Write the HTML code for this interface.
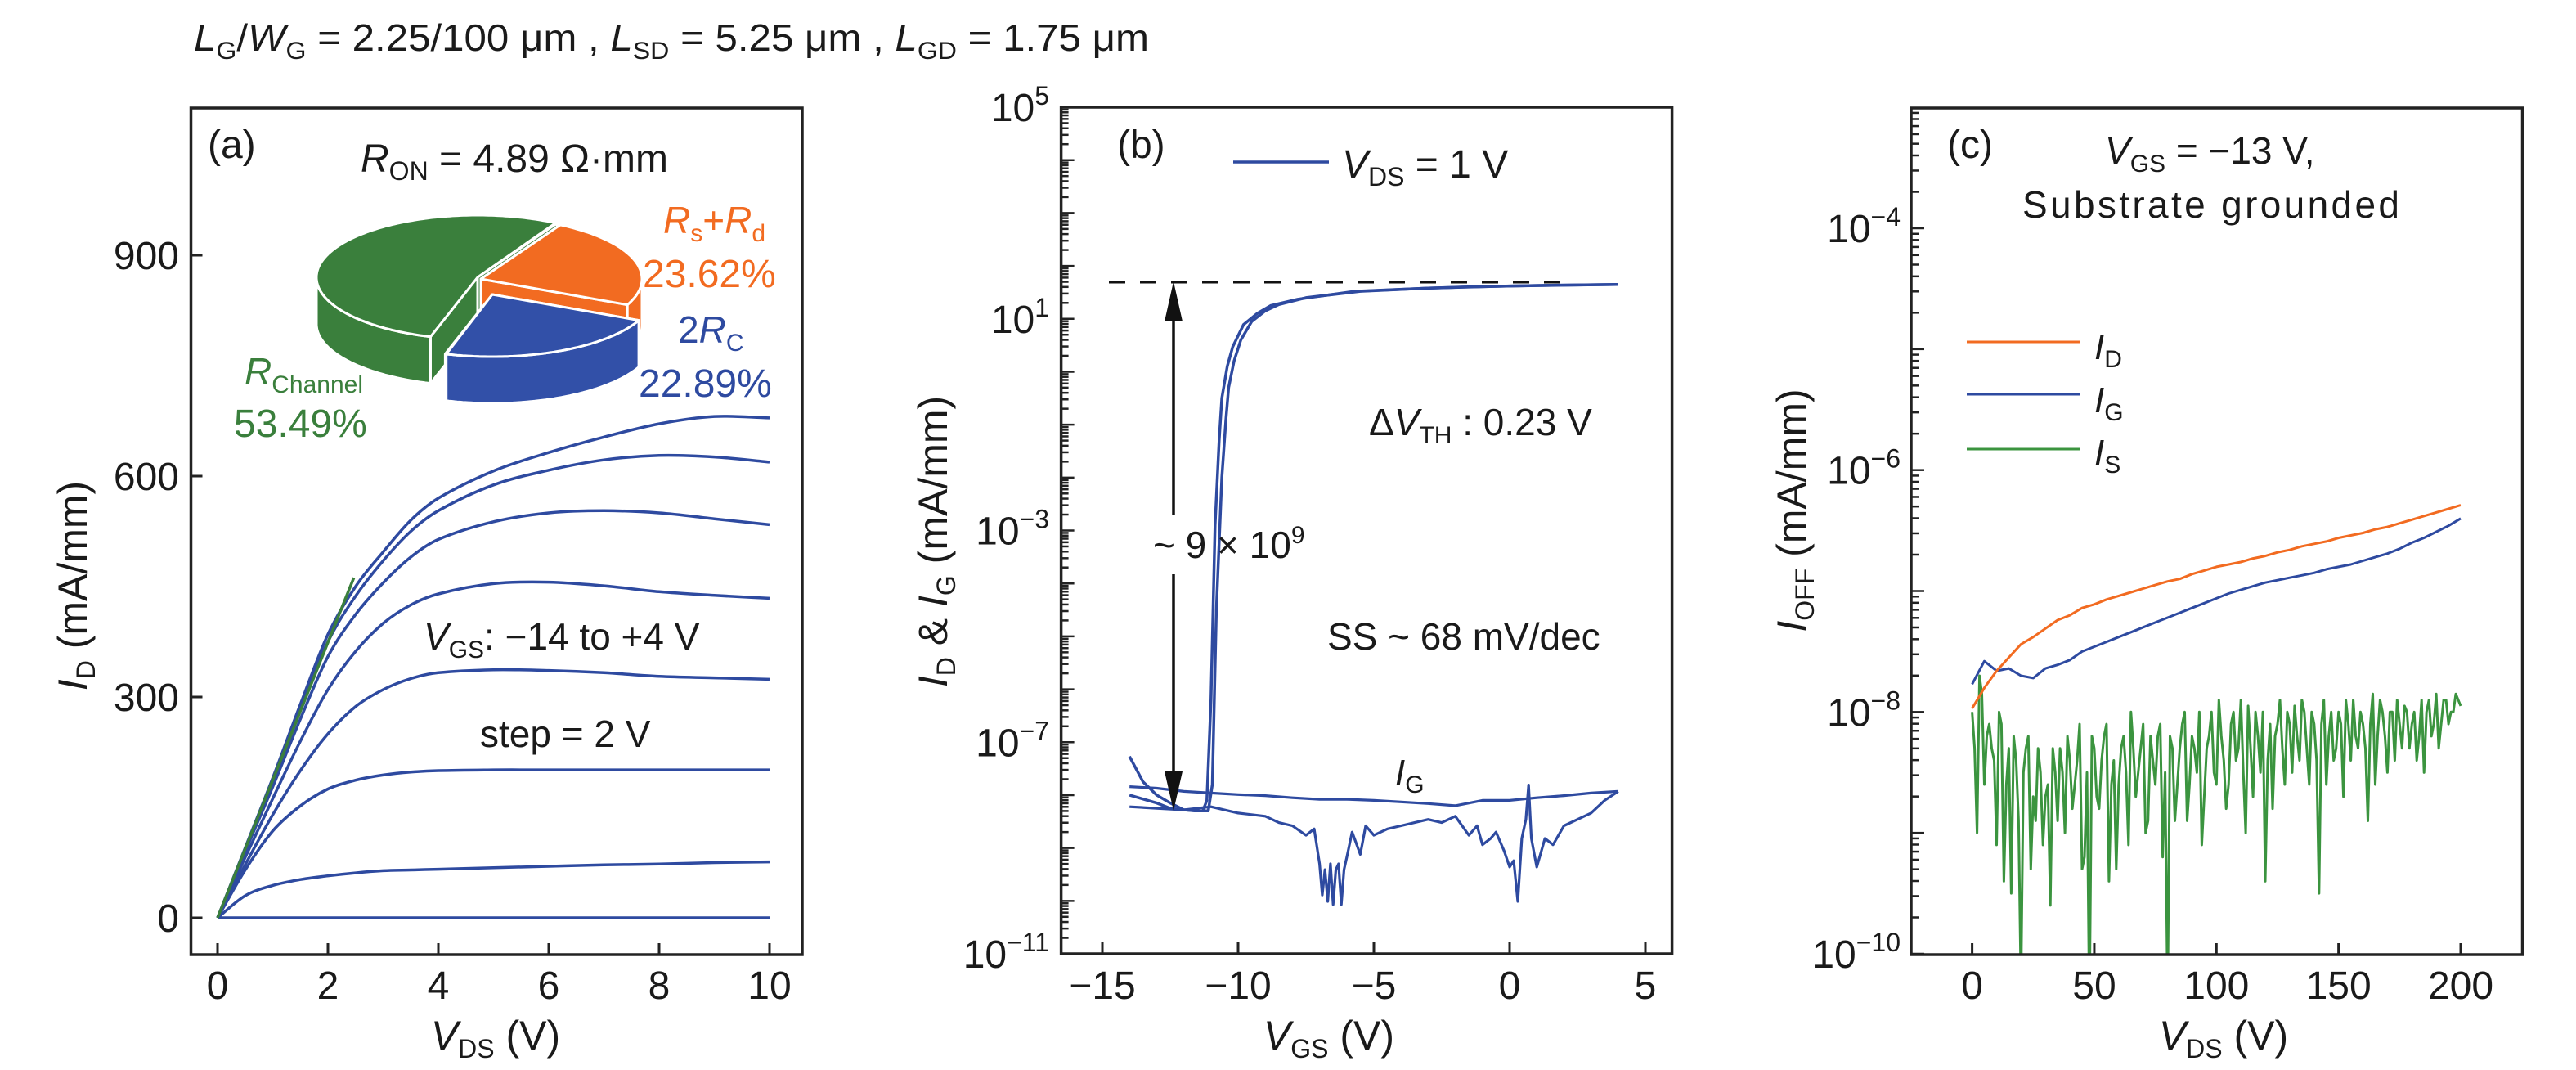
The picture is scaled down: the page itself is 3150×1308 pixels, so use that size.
<!DOCTYPE html>
<html><head><meta charset="utf-8">
<style>
html,body{margin:0;padding:0;background:#fff;}
svg{display:block;}
text{font-family:"Liberation Sans",sans-serif;fill:#1a1a1a;}
</style></head>
<body>
<svg id="chart" xmlns="http://www.w3.org/2000/svg" width="3150" height="1308" viewBox="0 0 3150 1308">
<rect width="3150" height="1308" fill="#fff"/>
<text x="237" y="62" font-size="46" textLength="1168" lengthAdjust="spacingAndGlyphs"><tspan font-style="italic">L</tspan><tspan font-size="30" dy="10">G</tspan><tspan dy="-10">/</tspan><tspan font-style="italic">W</tspan><tspan font-size="30" dy="10">G</tspan><tspan dy="-10"> = 2.25/100 μm , </tspan><tspan font-style="italic">L</tspan><tspan font-size="30" dy="10">SD</tspan><tspan dy="-10"> = 5.25 μm , </tspan><tspan font-style="italic">L</tspan><tspan font-size="30" dy="10">GD</tspan><tspan dy="-10"> = 1.75 μm</tspan></text>

<!-- Panel a -->
<g id="pa">
<g id="pie"></g>
<g id="pa-curves"></g>
<rect x="233.5" y="132" width="747.5" height="1035" fill="none" stroke="#222" stroke-width="3.5"/>
<g id="pa-ticks"></g>
<text x="254" y="193" font-size="48">(a)</text>
<text x="441" y="210" font-size="48"><tspan font-style="italic">R</tspan><tspan font-size="32" dy="10">ON</tspan><tspan dy="-10"> = 4.89 Ω·mm</tspan></text>
<text x="811" y="285" font-size="46" style="fill:#f26b21"><tspan font-style="italic">R</tspan><tspan font-size="30" dy="10">s</tspan><tspan dy="-10">+</tspan><tspan font-style="italic">R</tspan><tspan font-size="30" dy="10">d</tspan></text>
<text x="786" y="351" font-size="48" style="fill:#f26b21">23.62%</text>
<text x="829" y="419" font-size="46" style="fill:#2e4aa0">2<tspan font-style="italic">R</tspan><tspan font-size="30" dy="10">C</tspan></text>
<text x="781" y="485" font-size="48" style="fill:#2e4aa0">22.89%</text>
<text x="299" y="470" font-size="46" style="fill:#3a7f3c"><tspan font-style="italic">R</tspan><tspan font-size="30" dy="10">Channel</tspan></text>
<text x="286" y="534" font-size="48" style="fill:#3a7f3c">53.49%</text>
<text x="518" y="794" font-size="46"><tspan font-style="italic">V</tspan><tspan font-size="30" dy="10">GS</tspan><tspan dy="-10">: −14 to +4 V</tspan></text>
<text x="587" y="913" font-size="46">step = 2 V</text>
<text transform="translate(106,716) rotate(-90)" text-anchor="middle" font-size="50"><tspan font-style="italic">I</tspan><tspan font-size="32" dy="10">D</tspan><tspan dy="-10"> (mA/mm)</tspan></text>
<text x="606" y="1283" text-anchor="middle" font-size="50"><tspan font-style="italic">V</tspan><tspan font-size="32" dy="10">DS</tspan><tspan dy="-10"> (V)</tspan></text>
</g>

<!-- Panel b -->
<g id="pb">
<clipPath id="clipb"><rect x="1298" y="131" width="747" height="1035"/></clipPath>
<g id="pb-curves" clip-path="url(#clipb)"></g>
<rect x="1297.6" y="131" width="747" height="1035" fill="none" stroke="#222" stroke-width="3.5"/>
<g id="pb-ticks"></g>
<text x="1366" y="193" font-size="48">(b)</text>
<line x1="1508" y1="198" x2="1625" y2="198" stroke="#2e4aa0" stroke-width="3.5"/>
<text x="1641" y="217" font-size="48"><tspan font-style="italic">V</tspan><tspan font-size="32" dy="10">DS</tspan><tspan dy="-10"> = 1 V</tspan></text>
<line x1="1356" y1="345" x2="1918" y2="345" stroke="#111" stroke-width="3" stroke-dasharray="20,18"/>
<line x1="1435" y1="386" x2="1435" y2="629" stroke="#111" stroke-width="3.5"/>
<line x1="1435" y1="702" x2="1435" y2="950" stroke="#111" stroke-width="3.5"/>
<polygon points="1435,344 1424,393 1446,393" fill="#111"/>
<polygon points="1435,991 1424,943 1446,943" fill="#111"/>
<text x="1410" y="682" font-size="46">~ 9 × 10<tspan font-size="30" dy="-18">9</tspan></text>
<text x="1674" y="532" font-size="46">Δ<tspan font-style="italic">V</tspan><tspan font-size="30" dy="10">TH</tspan><tspan dy="-10"> : 0.23 V</tspan></text>
<text x="1623" y="794" font-size="46">SS ~ 68 mV/dec</text>
<text x="1706" y="959" font-size="44"><tspan font-style="italic">I</tspan><tspan font-size="30" dy="10">G</tspan></text>
<text transform="translate(1158,662) rotate(-90)" text-anchor="middle" font-size="50"><tspan font-style="italic">I</tspan><tspan font-size="32" dy="10">D</tspan><tspan dy="-10"> &amp; </tspan><tspan font-style="italic">I</tspan><tspan font-size="32" dy="10">G</tspan><tspan dy="-10"> (mA/mm)</tspan></text>
<text x="1625" y="1283" text-anchor="middle" font-size="50"><tspan font-style="italic">V</tspan><tspan font-size="32" dy="10">GS</tspan><tspan dy="-10"> (V)</tspan></text>
</g>

<!-- Panel c -->
<g id="pc">
<clipPath id="clipc"><rect x="2337" y="132" width="748" height="1035"/></clipPath>
<g id="pc-curves" clip-path="url(#clipc)"></g>
<rect x="2337" y="132" width="747.5" height="1035" fill="none" stroke="#222" stroke-width="3.5"/>
<g id="pc-ticks"></g>
<text x="2381" y="193" font-size="48">(c)</text>
<text x="2574" y="200" font-size="46"><tspan font-style="italic">V</tspan><tspan font-size="30" dy="10">GS</tspan><tspan dy="-10"> = −13 V,</tspan></text>
<text x="2473" y="266" font-size="46" textLength="461">Substrate grounded</text>
<line x1="2405" y1="418" x2="2543" y2="418" stroke="#f26b21" stroke-width="3"/>
<line x1="2405" y1="482" x2="2543" y2="482" stroke="#2e4aa0" stroke-width="3"/>
<line x1="2405" y1="549" x2="2543" y2="549" stroke="#3b943f" stroke-width="3"/>
<text x="2561" y="439" font-size="44"><tspan font-style="italic">I</tspan><tspan font-size="30" dy="10">D</tspan></text>
<text x="2561" y="504" font-size="44"><tspan font-style="italic">I</tspan><tspan font-size="30" dy="10">G</tspan></text>
<text x="2561" y="568" font-size="44"><tspan font-style="italic">I</tspan><tspan font-size="30" dy="10">S</tspan></text>
<text transform="translate(2208,624) rotate(-90)" text-anchor="middle" font-size="50"><tspan font-style="italic">I</tspan><tspan font-size="32" dy="10">OFF</tspan><tspan dy="-10"> (mA/mm)</tspan></text>
<text x="2719" y="1283" text-anchor="middle" font-size="50"><tspan font-style="italic">V</tspan><tspan font-size="32" dy="10">DS</tspan><tspan dy="-10"> (V)</tspan></text>
</g>
</svg>
<script>
const NS = 'http://www.w3.org/2000/svg';
// ---------- Panel (a) data ----------
const aVds = [0,0.5,1,1.5,2,2.5,3,3.5,4,5,6,7,8,9,10];
const aCurve1 = [0,95,190,290,385,450,497,540,570,607,632,653,671,681,679];
const aCurve2 = [0,93,186,283,375,437,485,525,553,588,608,622,628,626,619];
const aCurve3 = [0,90,178,270,355,412,455,490,514,538,550,553,550,542,534];
const aCurve4 = [0,82,162,240,310,362,400,425,440,454,456,451,443,438,434];
const aCurve5 = [0,72,140,200,250,287,310,325,333,337,336,333,328,326,324];
const aCurve6 = [0,65,118,152,175,187,194,198,200,201,201,201,201,201,201];
const aCurve7 = [0,30,44,52,57,61,64,65,66,68,70,72,73,75,76];
const aCurve8 = [0,0,0,0,0,0,0,0,0,0,0,0,0,0,0];
const aFitV = [0,2.47];
const aFitI = [0,462];
const aXTicks = [0,2,4,6,8,10];
const aYTicks = [0,300,600,900];
const aXTickLabels = ['0','2','4','6','8','10'];
const aYTickLabels = ['0','300','600','900'];
const pieShares = [53.49,23.62,22.89];
// ---------- Panel (b) data (log10 mA/mm) ----------
const bFwdV = [-14,-13.5,-13,-12.5,-12,-11.6,-11.3,-11.15,-11.0,-10.85,-10.7,-10.6,-10.4,-10.2,-9.8,-9.3,-8.8,-7.8,-5.7,-3,-1.7,1,4];
const bFwdLog = [-7.27,-7.75,-8.0,-8.15,-8.28,-8.3,-8.3,-8.1,-6.2,-2.9,-1.3,-0.5,0.1,0.47,0.89,1.1,1.25,1.37,1.52,1.58,1.6,1.63,1.65];
const bRevV = [-14,-13,-12.5,-12,-11.5,-11.1,-10.95,-10.8,-10.6,-10.45,-10.35,-10.15,-9.9,-9.5,-9,-8.5,-7.5,-5.5,-3,0,4];
const bRevLog = [-8.0,-8.15,-8.25,-8.28,-8.3,-8.3,-7.8,-4.5,-2.0,-0.9,-0.3,0.2,0.6,0.95,1.15,1.27,1.4,1.52,1.58,1.62,1.65];
const bIgAV = [-14,-13,-12,-11,-10,-9,-8,-7,-6,-5,-4,-3,-2,-1,0,1,2,3,4];
const bIgALog = [-7.84,-7.87,-7.93,-7.96,-7.99,-8.01,-8.05,-8.08,-8.08,-8.10,-8.13,-8.16,-8.20,-8.10,-8.10,-8.05,-8.01,-7.96,-7.93];
const bIgBV = [-14,-13,-12,-11,-10,-9,-8.5,-8,-7.5,-7.2,-7.0,-6.9,-6.8,-6.7,-6.6,-6.5,-6.4,-6.3,-6.2,-6.1,-6.0,-5.8,-5.5,-5.3,-5,-4.5,-4,-3.5,-3,-2.5,-2,-1.5,-1.2,-1,-0.7,-0.5,-0.2,0,0.15,0.3,0.45,0.6,0.7,0.8,1,1.3,1.6,2,2.5,3,3.5,4];
const bIgBLog = [-8.22,-8.25,-8.28,-8.22,-8.34,-8.40,-8.52,-8.58,-8.76,-8.64,-9.30,-9.89,-9.41,-10.01,-9.30,-10.07,-9.41,-9.30,-10.07,-9.41,-9.18,-8.70,-9.12,-8.58,-8.76,-8.64,-8.58,-8.52,-8.46,-8.52,-8.40,-8.76,-8.58,-8.94,-8.82,-8.70,-9.06,-9.36,-9.24,-10.01,-8.82,-8.46,-7.81,-8.82,-9.36,-8.82,-8.94,-8.58,-8.46,-8.34,-8.10,-7.93];
const bXTicks = [-15,-10,-5,0,5];
const bXTickLabels = ['−15','−10','−5','0','5'];
const bYMajor = [5,1,-3,-7,-11];
const bYTickExp = ['5','1','−3','−7','−11'];
// ---------- Panel (c) data (log10 mA/mm) ----------
const cVds5 = [0,5,10,15,20,25,30,35,40,45,50,55,60,65,70,75,80,85,90,95,100,105,110,115,120,125,130,135,140,145,150,155,160,165,170,175,180,185,190,195,200];
const cIdLog = [-7.97,-7.80,-7.66,-7.55,-7.44,-7.38,-7.31,-7.24,-7.20,-7.14,-7.11,-7.07,-7.04,-7.01,-6.98,-6.95,-6.92,-6.90,-6.86,-6.83,-6.80,-6.78,-6.76,-6.73,-6.71,-6.68,-6.66,-6.63,-6.61,-6.59,-6.56,-6.54,-6.52,-6.49,-6.47,-6.44,-6.41,-6.38,-6.35,-6.32,-6.29];
const cIgLog = [-7.77,-7.58,-7.66,-7.64,-7.70,-7.72,-7.64,-7.61,-7.57,-7.50,-7.46,-7.42,-7.38,-7.34,-7.30,-7.26,-7.22,-7.18,-7.14,-7.10,-7.06,-7.02,-6.99,-6.96,-6.93,-6.91,-6.89,-6.87,-6.85,-6.82,-6.80,-6.78,-6.75,-6.72,-6.69,-6.65,-6.60,-6.56,-6.51,-6.46,-6.40];
const cVdsEven = [0,2,4,6,8,10,12,14,16,18,20,22,24,26,28,30,32,34,36,38,40,42,44,46,48,50,52,54,56,58,60,62,64,66,68,70,72,74,76,78,80,82,84,86,88,90,92,94,96,98,100,102,104,106,108,110,112,114,116,118,120,122,124,126,128,130,132,134,136,138,140,142,144,146,148,150,152,154,156,158,160,162,164,166,168,170,172,174,176,178,180,182,184,186,188,190,192,194,196,198,200];
const cIsLogEven = [-8.0,-9.0,-7.85,-8.2,-8.3,-9.1,-8.1,-8.6,-9.5,-8.4,-10.3,-8.3,-9.3,-8.9,-8.5,-8.7,-9.6,-8.5,-8.3,-9.0,-8.4,-8.6,-8.1,-9.2,-10.5,-8.3,-8.8,-8.2,-9.4,-8.4,-8.6,-8.2,-9.1,-8.3,-8.5,-8.1,-8.9,-8.4,-8.2,-9.2,-10.4,-8.3,-8.6,-8.1,-8.9,-8.2,-8.5,-9.1,-8.3,-8.0,-8.6,-8.2,-8.8,-8.1,-8.4,-7.9,-9.0,-8.3,-8.0,-8.5,-9.4,-8.1,-8.2,-7.9,-8.6,-8.1,-7.95,-8.4,-8.0,-8.6,-8.1,-9.5,-7.9,-8.2,-8.4,-8.0,-8.7,-8.1,-7.9,-8.3,-8.1,-8.9,-7.85,-8.2,-8.0,-8.5,-8.0,-7.9,-8.3,-8.0,-8.1,-8.4,-7.9,-8.0,-8.2,-7.85,-8.1,-7.9,-8.0,-7.85,-7.95];
const cVdsOdd = [1,3,5,7,9,11,13,15,17,19,21,23,25,27,29,31,33,35,37,39,41,43,45,47,49,51,53,55,57,59,61,63,65,67,69,71,73,75,77,79,81,83,85,87,89,91,93,95,97,99,101,103,105,107,109,111,113,115,117,119,121,123,125,127,129,131,133,135,137,139,141,143,145,147,149,151,153,155,157,159,161,163,165,167,169,171,173,175,177,179,181,183,185,187,189,191,193,195,197,199];
const cIsLogOdd = [-8.3,-7.7,-8.6,-8.1,-8.4,-8.0,-9.4,-8.3,-8.2,-8.9,-8.5,-8.2,-8.7,-8.3,-9.1,-8.6,-8.3,-8.9,-8.5,-8.2,-8.8,-8.4,-9.3,-8.5,-8.2,-8.7,-8.4,-8.1,-8.6,-9.3,-8.3,-8.5,-8.0,-8.7,-8.3,-9.0,-8.2,-8.6,-8.1,-8.5,-8.2,-8.9,-8.3,-8.0,-8.6,-8.3,-8.0,-8.7,-8.2,-8.5,-7.9,-8.4,-8.6,-8.0,-8.3,-8.5,-7.95,-8.7,-8.2,-8.0,-8.4,-8.8,-8.1,-8.3,-8.0,-8.5,-8.2,-7.9,-8.3,-8.0,-8.4,-8.1,-8.6,-8.0,-8.3,-8.1,-7.9,-8.4,-8.2,-8.0,-8.3,-8.1,-8.6,-7.9,-8.2,-8.0,-8.4,-8.1,-7.95,-8.3,-8.0,-8.2,-8.5,-7.9,-8.1,-8.3,-7.9,-8.1,-8.0,-7.9];
const cXTicks = [0,50,100,150,200];
const cXTickLabels = ['0','50','100','150','200'];
const cYMajor = [-10,-8,-6,-4];
const cYTickExp = ['−10','−8','−6','−4'];

const BLUE = '#2e4aa0', ORANGE = '#f26b21', GREEN = '#3b943f';

// axis functions
function ax(v){ return 266 + v * (941 - 266) / 10; }
function ay(i){ return 1122 - i * (1122 - 312) / 900; }
function bx(v){ return 1348 + (v + 15) * (2012 - 1348) / 20; }
function by(l){ return 131 + (5 - l) * (1166 - 131) / 16; }
function cx(v){ return 2411.6 + v * (3009 - 2411.6) / 200; }
function cy(l){ return 279 + (-4 - l) * (1166 - 279) / 6; }

// cubic Hermite spline in pixel space with non-uniform spacing
function smoothPath(pts){
  const n = pts.length;
  const m = pts.map((p,i)=>{
    if (i === 0) return (pts[1][1]-p[1])/(pts[1][0]-p[0]);
    if (i === n-1) return (p[1]-pts[i-1][1])/(p[0]-pts[i-1][0]);
    return (pts[i+1][1]-pts[i-1][1])/(pts[i+1][0]-pts[i-1][0]);
  });
  let d = 'M' + pts[0][0].toFixed(1) + ',' + pts[0][1].toFixed(1);
  for (let i = 0; i < n-1; i++){
    const dx = (pts[i+1][0]-pts[i][0])/3;
    const c1 = [pts[i][0]+dx, pts[i][1]+m[i]*dx];
    const c2 = [pts[i+1][0]-dx, pts[i+1][1]-m[i+1]*dx];
    d += 'C' + c1[0].toFixed(1)+','+c1[1].toFixed(1)+' '+c2[0].toFixed(1)+','+c2[1].toFixed(1)+' '+pts[i+1][0].toFixed(1)+','+pts[i+1][1].toFixed(1);
  }
  return d;
}
function linePath(pts){
  return pts.map((p,i)=>(i?'L':'M')+p[0].toFixed(1)+','+p[1].toFixed(1)).join('');
}

// ---- Panel a curves
const ga = document.getElementById('pa-curves');
const aSeries = [aCurve1,aCurve2,aCurve3,aCurve4,aCurve5,aCurve6,aCurve7,aCurve8];
aSeries.forEach((arr, k) => {
  const p = document.createElementNS(NS,'path');
  
  
  p.setAttribute('d', smoothPath(aVds.map((v,i)=>[ax(v), ay(arr[i])])));
  p.setAttribute('fill','none'); p.setAttribute('stroke',BLUE); p.setAttribute('stroke-width','3.5');
  ga.appendChild(p);
});
{
  const p = document.createElementNS(NS,'path');
  
  
  p.setAttribute('d', linePath(aFitV.map((v,i)=>[ax(v), ay(aFitI[i])])));
  p.setAttribute('fill','none'); p.setAttribute('stroke','#3a7f3c'); p.setAttribute('stroke-width','3.5');
  ga.appendChild(p);
}
// ---- Panel a ticks
const ta = document.getElementById('pa-ticks');
aXTicks.forEach((v,i)=>{
  const l = document.createElementNS(NS,'line');
  
  
  l.setAttribute('x1',ax(v)); l.setAttribute('x2',ax(v)); l.setAttribute('y1',1167); l.setAttribute('y2',1153);
  l.setAttribute('stroke','#222'); l.setAttribute('stroke-width','3');
  ta.appendChild(l);
  const t = document.createElementNS(NS,'text');
  
  
  t.setAttribute('x',ax(v)); t.setAttribute('y',1221); t.setAttribute('text-anchor','middle'); t.setAttribute('font-size','48');
  t.textContent = aXTickLabels[i];
  ta.appendChild(t);
});
aYTicks.forEach((v,i)=>{
  const l = document.createElementNS(NS,'line');
  
  
  l.setAttribute('x1',233.5); l.setAttribute('x2',247.5); l.setAttribute('y1',ay(v)); l.setAttribute('y2',ay(v));
  l.setAttribute('stroke','#222'); l.setAttribute('stroke-width','3');
  ta.appendChild(l);
  const t = document.createElementNS(NS,'text');
  
  
  t.setAttribute('x',219); t.setAttribute('y',ay(v)+17); t.setAttribute('text-anchor','end'); t.setAttribute('font-size','48');
  t.textContent = aYTickLabels[i];
  ta.appendChild(t);
});
// ---- Pie
(function(){
  const g = document.getElementById('pie');
  const PCX = 584, PCY = 339, RX = 197, RY = 76, DEPTH = 57;
  const colors = ['#3a7f3c', ORANGE, '#3250a8'];
  const offsets = [[0,0],[4,2],[18,21]];
  const names = ['channel','source-drain','contact'];
  const total = pieShares.reduce((a,b)=>a+b,0);
  let start = 107;
  const slices = pieShares.map((s,i)=>{
    const span = s/total*360;
    const sl = {a0:start, a1:start+span, c:colors[i], o:offsets[i], n:names[i]};
    start += span; return sl;
  });
  const pt = (sl,a,dz) => {
    const r = a*Math.PI/180;
    return [PCX+sl.o[0]+RX*Math.cos(r), PCY+sl.o[1]+RY*Math.sin(r)+dz];
  };
  const mk = (d, sl, part) => {
    const p = document.createElementNS(NS,'path');
    
    
    p.setAttribute('d', d); p.setAttribute('fill', sl.c);
    p.setAttribute('stroke','#fff'); p.setAttribute('stroke-width','3'); p.setAttribute('stroke-linejoin','round');
    g.appendChild(p);
  };
  slices.forEach(sl=>{
    const ctr = [PCX+sl.o[0], PCY+sl.o[1]];
    [sl.a0, sl.a1].forEach(a=>{
      const e = pt(sl,a,0), eb = pt(sl,a,DEPTH);
      mk(linePath([ctr,e,eb,[ctr[0],ctr[1]+DEPTH]])+'Z', sl, 'cut-face');
    });
    const top=[], bot=[];
    for (let a = sl.a0; a <= sl.a1 + 0.01; a += 1){
      const aa = Math.min(a, sl.a1);
      const s = Math.sin(aa*Math.PI/180);
      if (s >= -0.02){ top.push(pt(sl,aa,0)); bot.push(pt(sl,aa,DEPTH)); }
    }
    if (top.length > 1) mk(linePath(top.concat(bot.reverse()))+'Z', sl, 'side');
  });
  slices.forEach(sl=>{
    const ctr = [PCX+sl.o[0], PCY+sl.o[1]];
    const pts=[ctr];
    for (let a = sl.a0; a <= sl.a1 + 0.01; a += 1) pts.push(pt(sl,Math.min(a,sl.a1),0));
    mk(linePath(pts)+'Z', sl, 'top');
  });
})();

// ---- Panel b curves
const gb = document.getElementById('pb-curves');
function addLogCurve(g, xs, ls, fx, fy, color, name, w){
  const p = document.createElementNS(NS,'path');
  
  
  p.setAttribute('d', linePath(xs.map((v,i)=>[fx(v), fy(ls[i])])));
  p.setAttribute('fill','none'); p.setAttribute('stroke',color); p.setAttribute('stroke-width',w);
  p.setAttribute('stroke-linejoin','round');
  g.appendChild(p);
}
addLogCurve(gb, bIgAV, bIgALog, bx, by, BLUE, 'ig-curve-forward', '3.2');
addLogCurve(gb, bIgBV, bIgBLog, bx, by, BLUE, 'ig-curve-reverse', '3.2');
addLogCurve(gb, bRevV, bRevLog, bx, by, BLUE, 'id-curve-reverse', '3.5');
addLogCurve(gb, bFwdV, bFwdLog, bx, by, BLUE, 'id-curve-forward', '3.5');

function logTicks(g, lo, hi, fy, xLeft){
  for (let d = lo; d < hi; d++){
    for (let k = 1; k <= 9; k++){
      const l = document.createElementNS(NS,'line');
      const y = fy(d + Math.log10(k));
      
      
      l.setAttribute('x1',xLeft); l.setAttribute('x2',xLeft + (k===1?16:9));
      l.setAttribute('y1',y); l.setAttribute('y2',y);
      l.setAttribute('stroke','#222'); l.setAttribute('stroke-width','2.5');
      g.appendChild(l);
    }
  }
}
function expLabel(g, x, y, exp){
  const t = document.createElementNS(NS,'text');
  
  
  t.setAttribute('x',x); t.setAttribute('y',y+17); t.setAttribute('text-anchor','end'); t.setAttribute('font-size','48');
  const a = document.createElementNS(NS,'tspan'); a.textContent = '10';
  const b = document.createElementNS(NS,'tspan'); b.textContent = exp;
  b.setAttribute('font-size','32'); b.setAttribute('dy','-20');
  t.appendChild(a); t.appendChild(b);
  g.appendChild(t);
}
const tb = document.getElementById('pb-ticks');
logTicks(tb, -11, 5, by, 1297.6);
bYMajor.forEach((e,i)=> expLabel(tb, 1283, by(e), bYTickExp[i]));
bXTicks.forEach((v,i)=>{
  const l = document.createElementNS(NS,'line');
  
  
  l.setAttribute('x1',bx(v)); l.setAttribute('x2',bx(v)); l.setAttribute('y1',1166); l.setAttribute('y2',1152);
  l.setAttribute('stroke','#222'); l.setAttribute('stroke-width','3');
  tb.appendChild(l);
  const t = document.createElementNS(NS,'text');
  
  
  t.setAttribute('x',bx(v)); t.setAttribute('y',1221); t.setAttribute('text-anchor','middle'); t.setAttribute('font-size','48');
  t.textContent = bXTickLabels[i];
  tb.appendChild(t);
});

// ---- Panel c curves
const gc = document.getElementById('pc-curves');
const isPairs = cVdsEven.map((v,i)=>[v, cIsLogEven[i]]).concat(cVdsOdd.map((v,i)=>[v, cIsLogOdd[i]])).sort((a,b)=>a[0]-b[0]);
addLogCurve(gc, isPairs.map(p=>p[0]), isPairs.map(p=>p[1]), cx, cy, GREEN, 'is-curve', '3');
addLogCurve(gc, cVds5, cIgLog, cx, cy, BLUE, 'ig-off-curve', '3');
addLogCurve(gc, cVds5, cIdLog, cx, cy, ORANGE, 'id-off-curve', '3');
const tc = document.getElementById('pc-ticks');
logTicks(tc, -10, -3, cy, 2337);
cYMajor.forEach((e,i)=> expLabel(tc, 2324, cy(e), cYTickExp[i]));
cXTicks.forEach((v,i)=>{
  const l = document.createElementNS(NS,'line');
  
  
  l.setAttribute('x1',cx(v)); l.setAttribute('x2',cx(v)); l.setAttribute('y1',1167); l.setAttribute('y2',1153);
  l.setAttribute('stroke','#222'); l.setAttribute('stroke-width','3');
  tc.appendChild(l);
  const t = document.createElementNS(NS,'text');
  
  
  t.setAttribute('x',cx(v)); t.setAttribute('y',1221); t.setAttribute('text-anchor','middle'); t.setAttribute('font-size','48');
  t.textContent = cXTickLabels[i];
  tc.appendChild(t);
});
</script>
</body></html>
